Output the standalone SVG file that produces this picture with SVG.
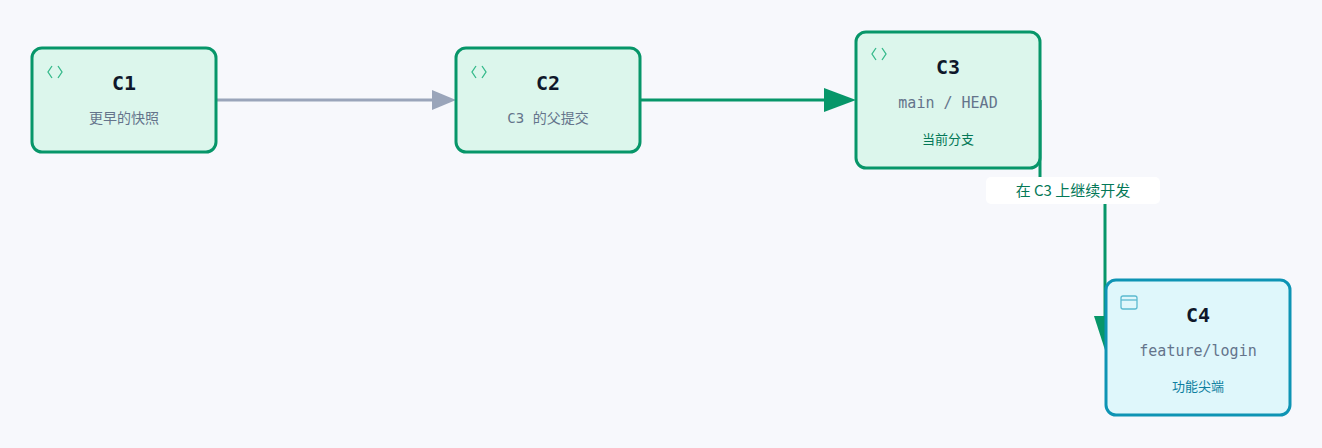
<svg xmlns="http://www.w3.org/2000/svg" width="1322" height="448" viewBox="0 0 1322 448">
<style>
.g{fill:#dcf6ec;stroke:#079669;stroke-width:3}
.c{fill:#dff7fb;stroke:#0e94b4;stroke-width:3}
.t{font-family:"DejaVu Sans Mono","Liberation Mono",monospace;font-size:20px;font-weight:bold;fill:#0f172a;text-anchor:middle}
.s{font-family:"DejaVu Sans Mono","Noto Sans CJK SC",monospace;font-size:15px;fill:#64748b;text-anchor:middle}
.n{font-family:"Noto Sans CJK SC",sans-serif;font-size:13px;text-anchor:middle}
.ic{fill:none;stroke:#34b98a;stroke-width:1.3}
</style>
<rect width="1322" height="448" fill="#f7f8fc"/>
<g id="connectors">
<line x1="216" y1="100" x2="436" y2="100" stroke="#9aa5ba" stroke-width="3"/>
<polygon points="432,90 456,100 432,110" fill="#9aa5ba"/>
<line x1="640" y1="100" x2="830" y2="100" stroke="#079669" stroke-width="3"/>
<polygon points="824,88 856,100 824,112" fill="#079669"/>
<path d="M1040,100 V190 H1105 V340" fill="none" stroke="#079669" stroke-width="3"/>
<polygon points="1094,316 1116,316 1105,350" fill="#079669"/>
<rect x="986" y="177" width="174" height="27" rx="5" fill="#fff"/>
<text x="1073" y="196" class="n" style="font-size:15px;fill:#047857">在 C3 上继续开发</text>
</g>
<g id="C1"><rect x="32" y="48" width="184" height="104" rx="10" class="g"/><path class="ic" d="M52,66 l-4,6 l4,6 M58,66 l4,6 l-4,6"/><text x="124" y="90" class="t">C1</text><text x="124" y="123" class="s" style="font-family:'Noto Sans CJK SC',sans-serif;font-size:14px">更早的快照</text></g>
<g id="C2"><rect x="456" y="48" width="184" height="104" rx="10" class="g"/><path class="ic" d="M476,66 l-4,6 l4,6 M482,66 l4,6 l-4,6"/><text x="548" y="90" class="t">C2</text><text x="548" y="123" class="s" style="font-size:14px">C3 的父提交</text></g>
<g id="C3"><rect x="856" y="32" width="184" height="136" rx="10" class="g"/><path class="ic" d="M876,48 l-4,6 l4,6 M882,48 l4,6 l-4,6"/><text x="948" y="74" class="t">C3</text><text x="948" y="108" class="s">main / HEAD</text><text x="948" y="144" class="n" style="fill:#047857">当前分支</text></g>
<g id="C4"><rect x="1106" y="280" width="184" height="135" rx="10" class="c"/><rect x="1121" y="296" width="16" height="13" rx="2" fill="none" stroke="#5bbad0" stroke-width="1.3"/><line x1="1121" y1="300" x2="1137" y2="300" stroke="#5bbad0" stroke-width="1.3"/><text x="1198" y="322" class="t">C4</text><text x="1198" y="356" class="s">feature/login</text><text x="1198" y="391" class="n" style="fill:#0e7fa0">功能尖端</text></g>
</svg>
